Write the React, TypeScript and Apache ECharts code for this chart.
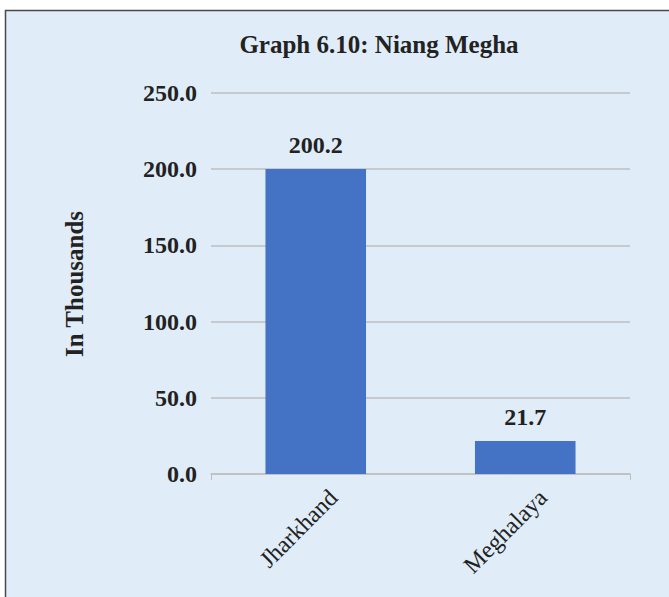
import React, { useEffect, useRef } from "react";
import * as echarts from "echarts";

const categories = ["Jharkhand", "Meghalaya"];
const values = [200.2, 21.7];
const titleText = "Graph 6.10: Niang Megha";
const yAxisTitle = "In Thousands";

export default function App() {
  const ref = useRef<HTMLDivElement>(null);
  useEffect(() => {
    if (!ref.current) return;
    const chart = echarts.init(ref.current, null, { renderer: "svg" });
    const serif = "'Liberation Serif', 'DejaVu Serif', serif";
    chart.setOption({
      animation: false,
      backgroundColor: "#ffffff",
      graphic: [
        {
          type: "rect",
          z: -10,
          silent: true,
          shape: { x: 5.5, y: 10.5, width: 700, height: 620 },
          style: { fill: "#E0ECF8", stroke: "#4a4a4a", lineWidth: 1.5 },
        },
        {
          type: "text",
          x: 379,
          y: 44,
          style: {
            text: titleText,
            font: `bold 25px ${serif}`,
            fill: "#222222",
            align: "center",
            verticalAlign: "middle",
          },
        },
        {
          type: "text",
          x: 74,
          y: 284,
          rotation: Math.PI / 2,
          style: {
            text: yAxisTitle,
            font: `bold 25px ${serif}`,
            fill: "#222222",
            align: "center",
            verticalAlign: "middle",
          },
        },
      ],
      grid: { left: 211, right: 39, top: 93, bottom: 123, containLabel: false },
      xAxis: {
        type: "category",
        data: categories,
        axisLine: { lineStyle: { color: "#BFBFBF", width: 1.5 } },
        axisTick: {
          show: true,
          length: 6,
          interval: (i: number) => i === 1,
          lineStyle: { color: "#BFBFBF" },
        },
        axisLabel: {
          rotate: 45,
          margin: 2,
          fontFamily: serif,
          fontSize: 24,
          color: "#222222",
          align: "right",
          verticalAlign: "top",
          lineHeight: 50,
        },
      },
      yAxis: {
        type: "value",
        min: 0,
        max: 250,
        interval: 50,
        axisLine: { show: false },
        axisTick: { show: false },
        splitLine: { lineStyle: { color: "#BFBFBF", width: 1.5 } },
        axisLabel: {
          margin: 14,
          fontFamily: serif,
          fontWeight: "bold",
          fontSize: 24,
          color: "#222222",
          formatter: (v: number) => v.toFixed(1),
        },
      },
      series: [
        {
          type: "bar",
          data: values,
          barWidth: "48%",
          itemStyle: { color: "#4472C4" },
          label: {
            show: true,
            position: "top",
            distance: 12,
            fontFamily: serif,
            fontWeight: "bold",
            fontSize: 24,
            color: "#222222",
            formatter: (p: any) => Number(p.value).toFixed(1),
          },
        },
      ],
    });
    return () => chart.dispose();
  }, []);
  return (
    <div
      ref={ref}
      style={{ position: "fixed", left: 0, top: 0, width: 669, height: 597 }}
    />
  );
}
